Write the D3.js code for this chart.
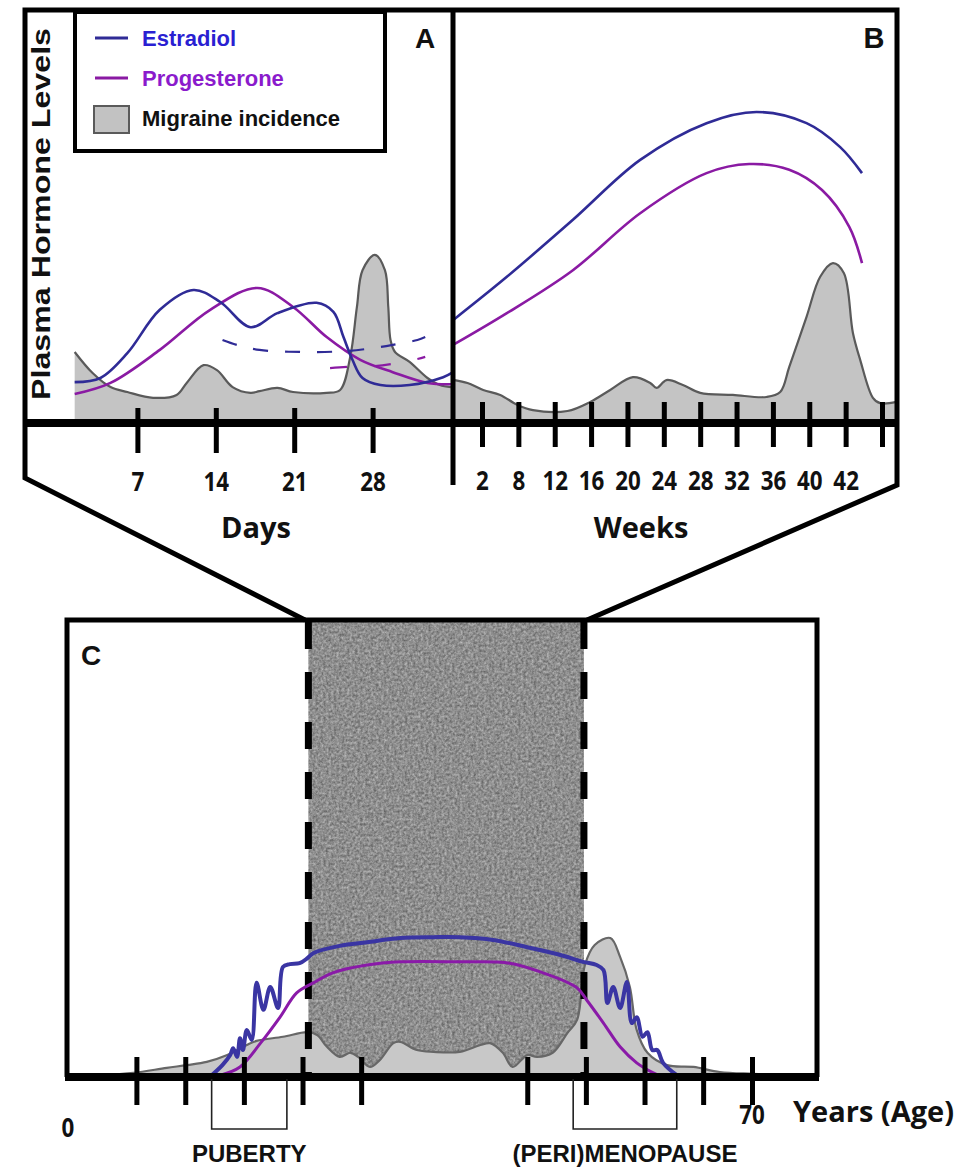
<!DOCTYPE html>
<html>
<head>
<meta charset="utf-8">
<script src="https://cdn.jsdelivr.net/npm/d3@7"></script>
<style>
body { margin: 0; background: #fff; }
svg { display: block; }
</style>
</head>
<body>
<svg id="chart" width="963" height="1167"></svg>
<script>
// ---- data (x, relative level 0-100) ----
// A: menstrual cycle, x = day of cycle
const cycleEstradiol = [[1.4,9.9],[3.7,10.9],[6.1,16.9],[9,27.4],[12,32.2],[14.4,29.3],[17.1,23.2],[19.5,26.6],[23,29.1],[24.5,26.9],[25.4,20.8],[26.2,15.3],[27.1,10.9],[28.7,9.2],[31.3,9.2],[34.3,11.1],[35.2,12.3]];
const cycleProgesterone = [[1.4,7.0],[4.6,9.7],[9,17.7],[13.5,27.4],[17.7,32.7],[20.9,28.1],[23.9,20.8],[26.9,15.3],[29.8,12.3],[32.9,9.7],[35.2,9.4]];
const cycleEstradiolAlt = [[14.6,20.1],[15.9,18.9],[17.9,17.7],[21.5,17.2],[25.5,17.4],[28.2,18.2],[29.8,18.9],[32,20.1],[32.7,20.8]];
const cycleProgesteroneAlt = [[24.2,13.3],[25.7,13.6],[28.2,13.8],[29.7,14.3],[32,15.5],[32.7,16.0]];
const cycleMigraine = [[1.4,17.2],[3,12.1],[4.6,8.7],[6.1,7.5],[8.4,6.1],[10.5,6.8],[11.4,9.7],[12.9,14.0],[14.1,12.8],[15.5,8.7],[17.1,7.3],[17.9,7.7],[19.5,8.5],[20.9,7.5],[23.9,7.3],[25.1,8.0],[26,16],[26.6,28.1],[27.1,37],[28.2,40.7],[29.1,37],[29.4,28.1],[29.6,20.1],[30,17.2],[31.3,14.8],[32.9,10.9],[34,9.2],[35,8.7]];
const dayTicks = [7, 14, 21, 28];

// B: pregnancy, x = week of gestation
const pregEstradiol = [[0,24.9],[6.1,35.4],[14,49.2],[21.4,63.7],[28.7,72.6],[34.2,75.3],[39.7,72.6],[41.7,66.8],[42.9,60.5]];
const pregProgesterone = [[0,18.9],[6.1,26.6],[14,37.0],[21.4,50.8],[28.7,60.5],[33.4,62.7],[37.8,61.3],[40.7,56.4],[42.2,47.5],[42.9,38.7]];
const pregMigraine = [[0.1,10.4],[1,9.7],[2.2,8.0],[5,6.8],[7.8,4.4],[9.6,3.1],[13.4,2.9],[15.9,5.1],[18.1,8.0],[20.6,11.1],[22.5,9.7],[23.2,8.5],[24.3,10.4],[26.1,9.2],[28,7.3],[31.6,6.8],[35.3,6.3],[36.8,7.5],[37.8,13.6],[39.7,25.7],[40.6,35.4],[41.3,38.7],[41.9,36.3],[42.4,21.8],[42.8,15.3],[43.5,6.1],[43.9,4.8],[44.8,5.1]];
const weekTicks = [2, 8, 12, 16, 20, 24, 28, 32, 36, 40, 42, 44];
const weekLabels = ['2', '8', '12', '16', '20', '24', '28', '32', '36', '40', '42', ''];

// C: lifespan, x = age in years
const lifeEstradiol = [[14.5,0],[15.8,2.6],[16.6,4.8],[16.9,6.3],[17.3,4.4],[17.6,8.5],[17.9,5.9],[18.3,10.3],[18.8,8.1],[19.3,20.6],[20.0,14.7],[20.7,19.7],[21.5,15.1],[22.0,24.1],[22.7,24.7],[23.7,24.9],[24.5,26.0],[25.1,27.1],[27.8,28.7],[30.6,29.5],[34.0,30.4],[37.4,30.6],[40.1,30.6],[43.5,30.0],[47.0,28.4],[50.4,26.7],[52.7,25.2],[54.1,24.5],[54.8,23.4],[55.2,16.2],[55.8,19.7],[56.5,15.1],[57.2,20.8],[57.7,11.8],[58.2,13.1],[58.8,8.8],[59.3,9.8],[59.8,5.9],[60.3,5.9],[60.9,3.1],[62.3,0.4]];
const lifeProgesterone = [[15.6,0.4],[17.6,2.2],[19.7,7.4],[21.7,13.1],[23.4,18.4],[25.1,20.6],[27.1,22.8],[30.6,24.5],[34.0,25.2],[40.1,25.2],[45.2,24.9],[48.6,22.8],[52.1,19.5],[53.1,16.8],[54.8,11.8],[56.5,6.6],[58.2,3.1],[59.9,0.9],[60.9,0]];
const lifeMigraine = [[3.3,0.4],[6.7,0.9],[10.1,2.0],[12.2,2.6],[14.2,3.3],[16.3,4.8],[18.3,7.0],[19.3,7.9],[22,8.8],[24.5,9.8],[25.5,9.2],[26.5,6.6],[27.8,4.4],[28.9,5.3],[29.7,4.4],[30.9,2.2],[31.9,3.7],[33.3,7.4],[34,7.7],[35.7,5.9],[37.4,5.5],[40.1,5.5],[42.2,7.0],[43.2,7.4],[44.5,5.3],[45.5,2.2],[47,4.8],[48,4.4],[49.6,5.3],[51.1,9.6],[52.1,12.5],[52.9,24.5],[53.9,28.9],[55.5,30.4],[56.5,26.3],[57.5,19.7],[58.2,10.3],[59.3,5.3],[61.3,2.6],[64,2.2],[66.7,1.1],[70.1,0.7],[74.2,0.4],[76.8,0.3]];
const ageTicks = [7, 12, 18, 24, 30, 47, 53, 59, 65, 70];
const reproductiveYears = [24.6, 52.8];
const lifeStages = [
    { name: 'PUBERTY', from: 14.7, to: 22.4 },
    { name: '(PERI)MENOPAUSE', from: 51.7, to: 62.3 }
];
const legendItems = [
    { label: 'Estradiol', kind: 'line', color: '#2f2b96', text: '#2a1fd2' },
    { label: 'Progesterone', kind: 'line', color: '#8a1aa3', text: '#8b1bcc' },
    { label: 'Migraine incidence', kind: 'box', color: '#c2c2c2', text: '#111' }
];

const BLUE = '#2f2b96', PURPLE = '#8a1aa3';
const GRAY_FILL = '#c4c4c4', GRAY_LINE = '#5a5a5a';
const SANS = "'Liberation Sans', Arial, sans-serif";
const NUM = "'Open Sans', 'Liberation Sans', sans-serif";

const svg = d3.select('#chart');
svg.append('rect').attr('width', 963).attr('height', 1167).attr('fill', '#fff');

// ---- layout ----
const frame = { left: 25, right: 897, top: 10, axisY: 423, split: 453, plotLeft: 75, bottomL: 478, bottomR: 485 };
const boxC = { left: 67, right: 817, top: 620, axisY: 1077 };

// ---- scales ----
const xDays = d3.scaleLinear().domain([0, 35]).range([59, 451]);
const yLevel = d3.scaleLinear().domain([0, 100]).range([frame.axisY, frame.top]);
const weekPos = d3.scalePoint().domain(weekTicks).range([482, 882]);
const xWeeks = d3.scaleLinear().domain([0].concat(weekTicks)).range([frame.split].concat(weekTicks.map(weekPos)));
const xAge = d3.scaleLinear().domain([0, 70]).range([68, 752]);
const yLife = d3.scaleLinear().domain([0, 100]).range([boxC.axisY, boxC.top]);

const smooth = d3.curveCatmullRom.alpha(0.5);

function lineOf(xs, ys) {
    return d3.line().x(d => xs(d[0])).y(d => ys(d[1])).curve(smooth);
}
function areaOf(xs, ys) {
    return d3.area().x(d => xs(d[0])).y0(ys(0)).y1(d => ys(d[1])).curve(smooth);
}

function drawMigraine(g, data, xs, ys, fill, stroke) {
    g.append('path').attr('d', areaOf(xs, ys)(data)).attr('fill', fill);
    g.append('path').attr('d', lineOf(xs, ys)(data))
        .attr('fill', 'none').attr('stroke', stroke).attr('stroke-width', 2.2);
}

function drawCurve(g, data, xs, ys, color, width, dash) {
    let p = g.append('path').attr('d', lineOf(xs, ys)(data))
        .attr('fill', 'none').attr('stroke', color).attr('stroke-width', width)
        .attr('stroke-linecap', 'butt');
    if (dash) p.attr('stroke-dasharray', dash);
    return p;
}

function addTicks(scale, values, labels, o) {
    let axis = d3.axisBottom(scale).tickValues(values)
        .tickSizeOuter(0).tickSizeInner(o.below).tickPadding(o.pad)
        .tickFormat((d, i) => labels[i]);
    let g = svg.append('g').attr('transform', 'translate(0,' + o.y + ')').call(axis);
    g.select('.domain').remove();
    g.selectAll('.tick line').attr('y1', -o.above)
        .attr('stroke', '#000').attr('stroke-width', 5);
    g.selectAll('.tick text')
        .attr('font-family', NUM).attr('font-weight', 700)
        .attr('font-size', 26).attr('fill', '#111')
        .attr('transform', 'scale(0.86,1)');
    return g;
}

function label(text, x, y, size, opts) {
    opts = opts || {};
    return svg.append('text').text(text)
        .attr('x', x).attr('y', y)
        .attr('text-anchor', opts.anchor || 'start')
        .attr('font-family', opts.family || NUM).attr('font-weight', 700)
        .attr('font-size', size).attr('fill', opts.fill || '#111');
}

// ---- panel A / B ----
const gAB = svg.append('g');
drawMigraine(gAB, cycleMigraine, xDays, yLevel, GRAY_FILL, GRAY_LINE);
drawMigraine(gAB, pregMigraine, xWeeks, yLevel, GRAY_FILL, GRAY_LINE);

drawCurve(gAB, cycleEstradiolAlt, xDays, yLevel, BLUE, 2.2, '15,17');
drawCurve(gAB, cycleProgesteroneAlt, xDays, yLevel, PURPLE, 2.2, '17,27');
drawCurve(gAB, cycleProgesterone, xDays, yLevel, PURPLE, 2.6);
drawCurve(gAB, cycleEstradiol, xDays, yLevel, BLUE, 2.6);
drawCurve(gAB, pregProgesterone, xWeeks, yLevel, PURPLE, 2.6);
drawCurve(gAB, pregEstradiol, xWeeks, yLevel, BLUE, 2.6);

svg.append('line')
    .attr('x1', frame.left).attr('x2', frame.right)
    .attr('y1', frame.axisY).attr('y2', frame.axisY)
    .attr('stroke', '#000').attr('stroke-width', 8);

addTicks(xDays, dayTicks, dayTicks.map(String), { y: frame.axisY, above: 15, below: 30, pad: 20 });
addTicks(weekPos, weekTicks, weekLabels, { y: frame.axisY, above: 21, below: 24, pad: 25 });

// zoom frame linking top panels to C
svg.append('path')
    .attr('d', d3.line()([
        [305, boxC.top], [frame.left, frame.bottomL], [frame.left, frame.top],
        [frame.right, frame.top], [frame.right, frame.bottomR], [587, boxC.top]
    ]))
    .attr('fill', 'none').attr('stroke', '#000').attr('stroke-width', 5)
    .attr('stroke-linejoin', 'miter');
svg.append('line')
    .attr('x1', frame.split).attr('x2', frame.split)
    .attr('y1', frame.top).attr('y2', frame.bottomR)
    .attr('stroke', '#000').attr('stroke-width', 5);

// axis titles and panel letters
label('Days', 256, 538, 29, { anchor: 'middle' });
label('Weeks', 641, 538, 29, { anchor: 'middle' });
svg.append('text').text('Plasma Hormone Levels')
    .attr('transform', 'translate(50,214) rotate(-90)')
    .attr('text-anchor', 'middle')
    .attr('textLength', 372).attr('lengthAdjust', 'spacingAndGlyphs')
    .attr('font-family', SANS).attr('font-weight', 700).attr('font-size', 26).attr('fill', '#111');
label('A', 425, 48, 28, { anchor: 'middle', family: SANS });
label('B', 874, 48, 29, { anchor: 'middle', family: SANS });

// legend
const legend = svg.append('g');
legend.append('rect').attr('x', 75).attr('y', 12).attr('width', 310).attr('height', 139)
    .attr('fill', '#fff').attr('stroke', '#000').attr('stroke-width', 4);
legendItems.forEach(function(d, i) {
    let cy = 38 + i * 40;
    if (d.kind === 'line') {
        legend.append('line').attr('x1', 95).attr('x2', 128).attr('y1', cy).attr('y2', cy)
            .attr('stroke', d.color).attr('stroke-width', 3);
    } else {
        legend.append('rect').attr('x', 94).attr('y', cy - 12).attr('width', 35).attr('height', 27)
            .attr('fill', d.color).attr('stroke', GRAY_LINE).attr('stroke-width', 2);
    }
    legend.append('text').text(d.label)
        .attr('x', 142).attr('y', cy + 8)
        .attr('font-family', SANS).attr('font-weight', 700).attr('font-size', 22)
        .attr('fill', d.text);
});

// ---- panel C ----
const defs = svg.append('defs');
const grain = defs.append('filter').attr('id', 'grain')
    .attr('x', 0).attr('y', 0).attr('width', 1).attr('height', 1)
    .attr('color-interpolation-filters', 'sRGB');
grain.append('feTurbulence').attr('type', 'fractalNoise')
    .attr('baseFrequency', 0.38).attr('numOctaves', 3).attr('seed', 4).attr('result', 'noise');
grain.append('feColorMatrix').attr('in', 'noise').attr('type', 'matrix')
    .attr('values', '0.45 0 0 0 0.33  0.45 0 0 0 0.33  0.45 0 0 0 0.33  0 0 0 0 1')
    .attr('result', 'gray');
grain.append('feComposite').attr('in', 'gray').attr('in2', 'SourceGraphic').attr('operator', 'in');

const gC = svg.append('g');
gC.append('rect')
    .attr('x', xAge(reproductiveYears[0])).attr('y', boxC.top)
    .attr('width', xAge(reproductiveYears[1]) - xAge(reproductiveYears[0]))
    .attr('height', boxC.axisY - boxC.top)
    .attr('fill', '#8c8c8c').attr('filter', 'url(#grain)');

drawMigraine(gC, lifeMigraine, xAge, yLife, '#c8c8c8', '#676767');

gC.selectAll('line.reproductive').data(reproductiveYears).enter()
    .append('line').attr('class', 'reproductive')
    .attr('x1', d => xAge(d)).attr('x2', d => xAge(d))
    .attr('y1', boxC.top + 2).attr('y2', boxC.axisY)
    .attr('stroke', '#000').attr('stroke-width', 7).attr('stroke-dasharray', '27,23');

drawCurve(gC, lifeProgesterone, xAge, yLife, '#8a1aa8', 3);
drawCurve(gC, lifeEstradiol, xAge, yLife, '#3a35a3', 4).attr('stroke-linejoin', 'round');

svg.append('path')
    .attr('d', d3.line()([[boxC.left, boxC.axisY], [boxC.left, boxC.top], [boxC.right, boxC.top], [boxC.right, boxC.axisY]]))
    .attr('fill', 'none').attr('stroke', '#000').attr('stroke-width', 5);
svg.append('line')
    .attr('x1', boxC.left - 2).attr('x2', boxC.right + 2)
    .attr('y1', boxC.axisY).attr('y2', boxC.axisY)
    .attr('stroke', '#000').attr('stroke-width', 8);

addTicks(xAge, ageTicks, ageTicks.map(() => ''), { y: boxC.axisY, above: 20, below: 28, pad: 0 });

// life stage brackets
lifeStages.forEach(function(s) {
    svg.append('path')
        .attr('d', d3.line()([[xAge(s.from), boxC.axisY + 2], [xAge(s.from), 1129], [xAge(s.to), 1129], [xAge(s.to), boxC.axisY + 2]]))
        .attr('fill', 'none').attr('stroke', '#222').attr('stroke-width', 1.6);
    label(s.name, (xAge(s.from) + xAge(s.to)) / 2, 1162, 24, { anchor: 'middle', family: SANS });
});

label('0', xAge(0), 1137, 26, { anchor: 'middle' }).attr('transform', 'translate(' + xAge(0) * 0.14 + ',0) scale(0.86,1)');
label('70', xAge(70), 1124, 26, { anchor: 'middle' }).attr('transform', 'translate(' + xAge(70) * 0.14 + ',0) scale(0.86,1)');
label('Years (Age)', 793, 1122, 29);
label('C', 81, 665, 28, { family: SANS });
</script>
</body>
</html>
